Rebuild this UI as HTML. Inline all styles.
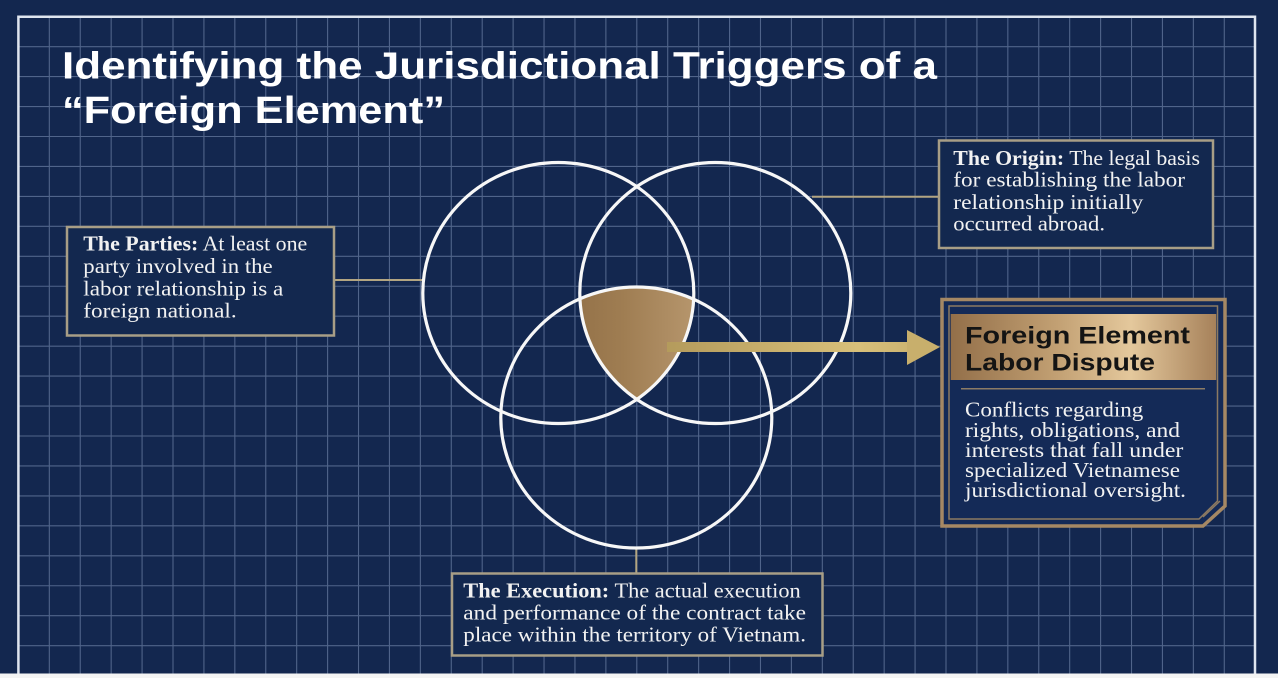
<!DOCTYPE html>
<html><head><meta charset="utf-8"><style>
html,body{margin:0;padding:0;background:#13274f;}
svg{display:block;}
</style></head><body>
<svg width="1278" height="678" viewBox="0 0 1278 678" xmlns="http://www.w3.org/2000/svg">
<defs>
<linearGradient id="bronze" x1="0" y1="0" x2="1" y2="0">
<stop offset="0" stop-color="#83613a"/><stop offset="0.45" stop-color="#9f7d52"/><stop offset="0.75" stop-color="#b99970"/><stop offset="1" stop-color="#a3815a"/>
</linearGradient>
<linearGradient id="hdr" x1="0" y1="0" x2="1" y2="0">
<stop offset="0" stop-color="#936f49"/><stop offset="0.4" stop-color="#c2a073"/><stop offset="0.68" stop-color="#e4c89c"/><stop offset="1" stop-color="#a6815a"/>
</linearGradient>
<linearGradient id="arr" x1="667" y1="0" x2="940" y2="0" gradientUnits="userSpaceOnUse">
<stop offset="0" stop-color="#b49b5c"/><stop offset="0.7" stop-color="#d8c07a"/><stop offset="1" stop-color="#c6ad6c"/>
</linearGradient>
<clipPath id="cL"><ellipse cx="558.3" cy="293" rx="135.5" ry="130.5"/></clipPath>
<clipPath id="cR"><ellipse cx="715.3" cy="293" rx="135.5" ry="130.5"/></clipPath>
</defs>
<rect x="0" y="0" width="1278" height="678" fill="#13274f"/>
<!-- grid -->
<path stroke="#8ea2c6" stroke-opacity="0.5" stroke-width="1.1" fill="none" d="
M49.32 16.7V674 M80.24 16.7V674 M111.16 16.7V674 M142.08 16.7V674 M173 16.7V674 M203.92 16.7V674 M234.84 16.7V674 M265.76 16.7V674 M296.68 16.7V674 M327.6 16.7V674 M358.52 16.7V674 M389.44 16.7V674 M420.36 16.7V674 M451.28 16.7V674 M482.2 16.7V674 M513.12 16.7V674 M544.04 16.7V674 M574.96 16.7V674 M605.88 16.7V674 M636.8 16.7V674 M667.72 16.7V674 M698.64 16.7V674 M729.56 16.7V674 M760.48 16.7V674 M791.4 16.7V674 M822.32 16.7V674 M853.24 16.7V674 M884.16 16.7V674 M915.08 16.7V674 M946 16.7V674 M976.92 16.7V674 M1007.84 16.7V674 M1038.76 16.7V674 M1069.68 16.7V674 M1100.6 16.7V674 M1131.52 16.7V674 M1162.44 16.7V674 M1193.36 16.7V674 M1224.28 16.7V674
M18.4 46.65H1255 M18.4 76.6H1255 M18.4 106.55H1255 M18.4 136.5H1255 M18.4 166.45H1255 M18.4 196.4H1255 M18.4 226.35H1255 M18.4 256.3H1255 M18.4 286.25H1255 M18.4 316.2H1255 M18.4 346.15H1255 M18.4 376.1H1255 M18.4 406.05H1255 M18.4 436H1255 M18.4 465.95H1255 M18.4 495.9H1255 M18.4 525.85H1255 M18.4 555.8H1255 M18.4 585.75H1255 M18.4 615.7H1255 M18.4 645.65H1255"/>
<path d="M18.4 674V16.7H1255V674" fill="none" stroke="#dfe5ef" stroke-width="2.5"/>
<rect x="0" y="673.5" width="1278" height="5" fill="#f4f4f4"/>

<!-- title -->
<g font-family="'Liberation Sans', sans-serif" font-weight="700" font-size="38" fill="#ffffff">
<text x="62" y="78.5" textLength="875" lengthAdjust="spacingAndGlyphs">Identifying the Jurisdictional Triggers of a</text>
<text x="62" y="123" textLength="383" lengthAdjust="spacingAndGlyphs">“Foreign Element”</text>
</g>

<!-- connectors -->
<g stroke="#b3a582" stroke-width="2">
<line x1="334" y1="280" x2="423" y2="280"/>
<line x1="812" y1="196.7" x2="939" y2="196.7"/>
<line x1="636.3" y1="548" x2="636.3" y2="573"/>
</g>

<!-- bronze intersection -->
<g clip-path="url(#cL)"><g clip-path="url(#cR)">
<ellipse cx="636.3" cy="417.5" rx="135.5" ry="130.5" fill="url(#bronze)"/>
</g></g>

<!-- circles -->
<g fill="none" stroke="#f7f7f7" stroke-width="3.2">
<ellipse cx="558.3" cy="293" rx="135.5" ry="130.5"/>
<ellipse cx="715.3" cy="293" rx="135.5" ry="130.5"/>
<ellipse cx="636.3" cy="417.5" rx="135.5" ry="130.5"/>
</g>

<!-- arrow -->
<rect x="667" y="342" width="242" height="10" fill="url(#arr)"/>
<polygon points="907,330 940,347 907,365" fill="#c8af6c"/>

<!-- Parties box -->
<rect x="67" y="227" width="267" height="108.5" fill="#13284f" stroke="#a89e86" stroke-width="2.5"/>
<g font-family="'Liberation Serif', serif" font-size="21" fill="#f2f2f2">
<text x="83.3" y="250.7" textLength="224" lengthAdjust="spacingAndGlyphs"><tspan font-weight="700">The Parties:</tspan> At least one</text>
<text x="83.3" y="273" textLength="189.4" lengthAdjust="spacingAndGlyphs">party involved in the</text>
<text x="83.3" y="295.5" textLength="200" lengthAdjust="spacingAndGlyphs">labor relationship is a</text>
<text x="83.3" y="317.5" textLength="153.4" lengthAdjust="spacingAndGlyphs">foreign national.</text>
</g>

<!-- Origin box -->
<rect x="939" y="140.5" width="274" height="107.5" fill="#13284f" stroke="#a89e86" stroke-width="2.5"/>
<g font-family="'Liberation Serif', serif" font-size="21" fill="#f2f2f2">
<text x="953.3" y="165" textLength="246.7" lengthAdjust="spacingAndGlyphs"><tspan font-weight="700">The Origin:</tspan> The legal basis</text>
<text x="953.3" y="186.7" textLength="231.7" lengthAdjust="spacingAndGlyphs">for establishing the labor</text>
<text x="953.3" y="209" textLength="190" lengthAdjust="spacingAndGlyphs">relationship initially</text>
<text x="953.3" y="230.5" textLength="151.7" lengthAdjust="spacingAndGlyphs">occurred abroad.</text>
</g>

<!-- Execution box -->
<rect x="452" y="573.5" width="370.5" height="82" fill="#13284f" stroke="#a89e86" stroke-width="2.5"/>
<g font-family="'Liberation Serif', serif" font-size="21" fill="#f2f2f2">
<text x="463.3" y="597.3" textLength="337.4" lengthAdjust="spacingAndGlyphs"><tspan font-weight="700">The Execution:</tspan> The actual execution</text>
<text x="463.3" y="619.5" textLength="342.7" lengthAdjust="spacingAndGlyphs">and performance of the contract take</text>
<text x="463.3" y="641.7" textLength="342.7" lengthAdjust="spacingAndGlyphs">place within the territory of Vietnam.</text>
</g>

<!-- Result box -->
<polygon points="942,299.5 1225,299.5 1225,506 1203,526 942,526" fill="#142a57" stroke="#a58864" stroke-width="3.5"/>
<polygon points="949,306 1217.5,306 1217.5,501 1199,519 949,519" fill="none" stroke="#8c7a62" stroke-width="1.5"/>
<line x1="1203" y1="517" x2="1220" y2="501" stroke="#8c7a62" stroke-width="1.5"/>
<rect x="950.7" y="314" width="265.5" height="66" fill="url(#hdr)"/>
<line x1="961" y1="388.7" x2="1205" y2="388.7" stroke="#8c7c66" stroke-width="1.5"/>
<g font-family="'Liberation Sans', sans-serif" font-weight="700" font-size="24" fill="#141414">
<text x="965" y="343.3" textLength="225" lengthAdjust="spacingAndGlyphs">Foreign Element</text>
<text x="965" y="370.7" textLength="190" lengthAdjust="spacingAndGlyphs">Labor Dispute</text>
</g>
<g font-family="'Liberation Serif', serif" font-size="21" fill="#f2f2f2">
<text x="965" y="416.7" textLength="178.3" lengthAdjust="spacingAndGlyphs">Conflicts regarding</text>
<text x="965" y="437" textLength="215" lengthAdjust="spacingAndGlyphs">rights, obligations, and</text>
<text x="965" y="457" textLength="218.3" lengthAdjust="spacingAndGlyphs">interests that fall under</text>
<text x="965" y="477" textLength="215" lengthAdjust="spacingAndGlyphs">specialized Vietnamese</text>
<text x="965" y="497" textLength="221" lengthAdjust="spacingAndGlyphs">jurisdictional oversight.</text>
</g>
</svg>
</body></html>
